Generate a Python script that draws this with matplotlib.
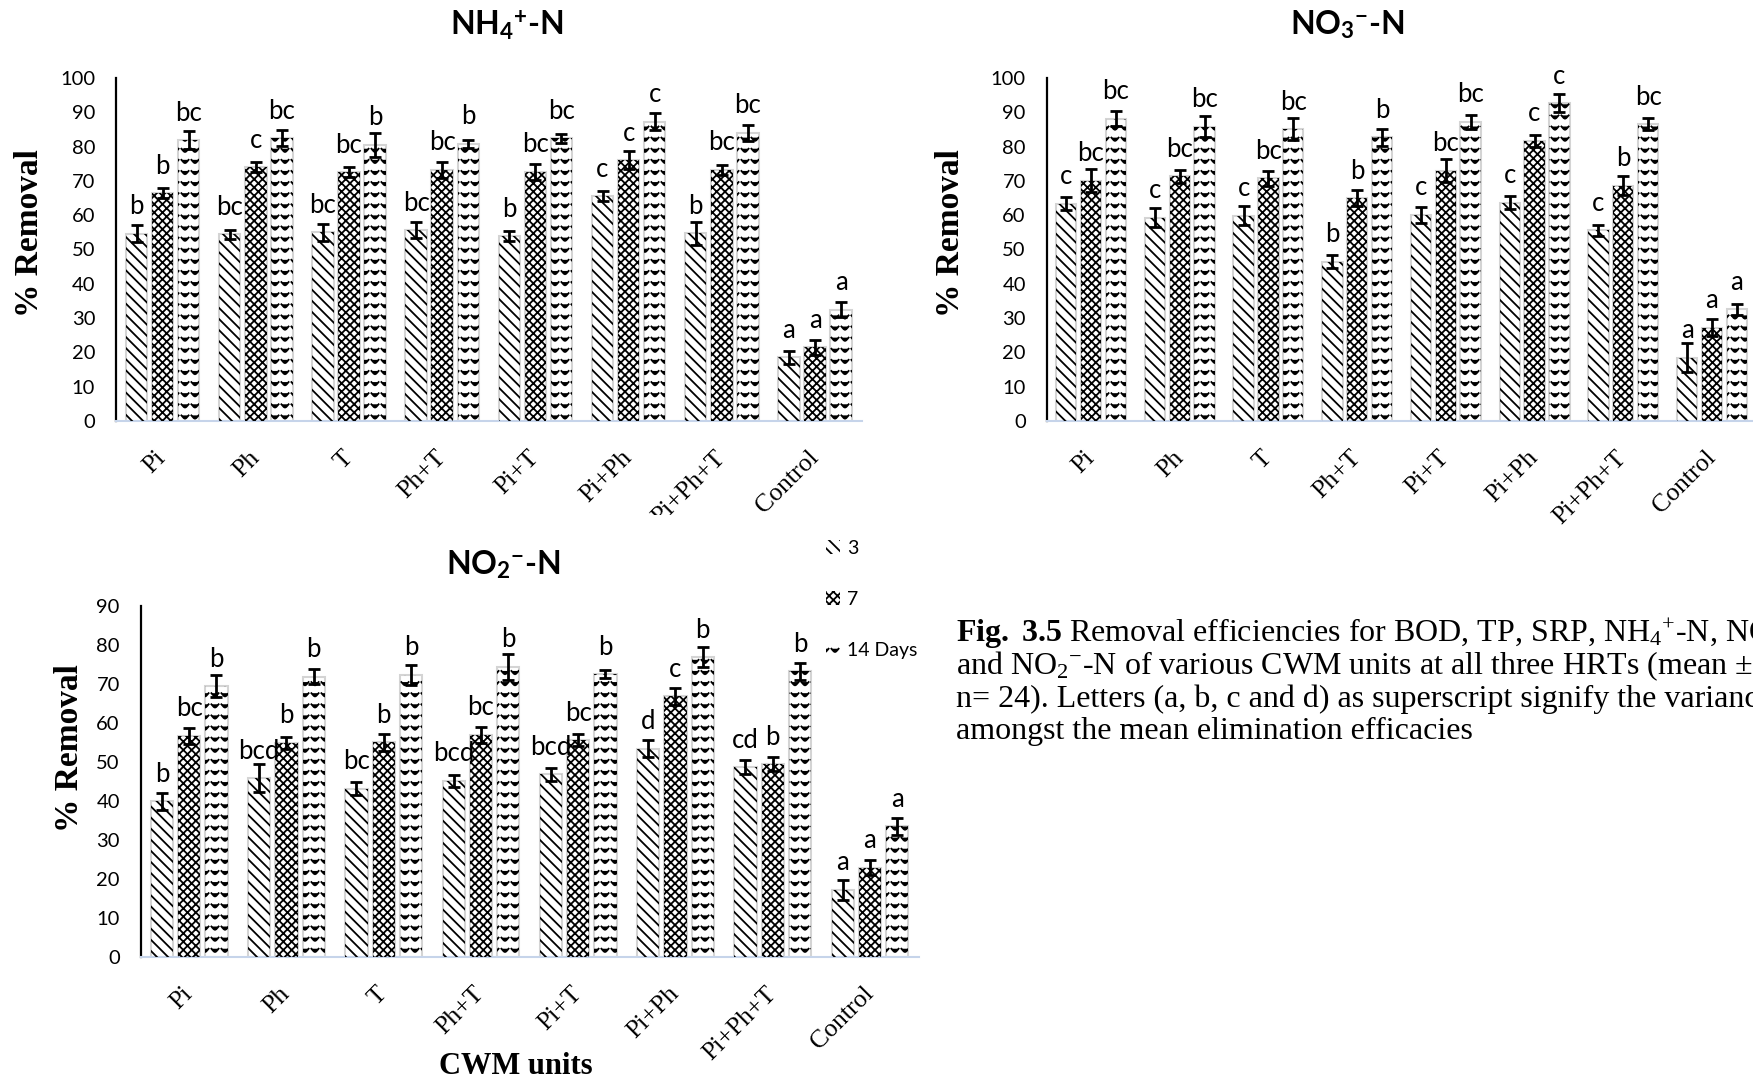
import warnings
import numpy as np
import matplotlib
matplotlib.use('Agg')
import matplotlib.pyplot as plt
import matplotlib.hatch as mhatch
from matplotlib.path import Path
from matplotlib.patches import Patch
from matplotlib.transforms import Bbox, TransformedBbox

warnings.filterwarnings('ignore')

units = ['Pi', 'Ph', 'T', 'Ph+T', 'Pi+T', 'Pi+Ph', 'Pi+Ph+T', 'Control']
days = ['3', '7', '14 Days']

# NH4+-N removal (%)
nh4_d3 = [54.6, 54.5, 55.0, 55.7, 53.9, 65.5, 54.7, 18.6]
nh4_d7 = [66.4, 74.0, 72.5, 73.2, 72.7, 76.1, 73.2, 21.5]
nh4_d14 = [81.9, 82.4, 80.5, 80.8, 82.4, 87.2, 84.0, 32.4]
nh4_e3 = [2.5, 1.3, 2.5, 2.4, 1.4, 1.5, 3.3, 1.9]
nh4_e7 = [1.5, 1.5, 1.5, 2.3, 2.3, 2.5, 1.5, 2.2]
nh4_e14 = [2.6, 2.3, 3.6, 1.2, 1.4, 2.5, 2.3, 2.2]
nh4_l3 = ['b', 'bc', 'bc', 'bc', 'b', 'c', 'b', 'a']
nh4_l7 = ['b', 'c', 'bc', 'bc', 'bc', 'c', 'bc', 'a']
nh4_l14 = ['bc', 'bc', 'b', 'b', 'bc', 'c', 'bc', 'a']

# NO3--N removal (%)
no3_d3 = [63.4, 59.3, 59.9, 46.5, 60.1, 63.7, 55.6, 18.5]
no3_d7 = [70.1, 71.3, 70.8, 65.0, 73.0, 81.7, 68.6, 27.2]
no3_d14 = [88.1, 85.8, 85.1, 82.7, 87.2, 92.7, 86.5, 32.6]
no3_e3 = [2.0, 2.8, 2.7, 1.9, 2.4, 1.8, 1.6, 4.2]
no3_e7 = [3.4, 1.9, 2.2, 2.4, 3.3, 1.8, 2.8, 2.4]
no3_e14 = [2.2, 3.0, 3.1, 2.4, 2.0, 2.6, 1.8, 1.6]
no3_l3 = ['c', 'c', 'c', 'b', 'c', 'c', 'c', 'a']
no3_l7 = ['bc', 'bc', 'bc', 'b', 'bc', 'c', 'b', 'a']
no3_l14 = ['bc', 'bc', 'bc', 'b', 'bc', 'c', 'bc', 'a']

# NO2--N removal (%)
no2_d3 = [39.9, 45.9, 43.2, 45.2, 46.8, 53.4, 48.7, 17.2]
no2_d7 = [56.7, 54.9, 55.1, 57.0, 55.6, 66.8, 49.4, 22.9]
no2_d14 = [69.4, 71.9, 72.4, 74.4, 72.5, 76.9, 73.3, 33.5]
no2_e3 = [2.2, 3.6, 1.6, 1.5, 1.7, 2.2, 1.8, 2.6]
no2_e7 = [2.1, 1.5, 2.2, 2.1, 1.6, 2.1, 1.8, 1.9]
no2_e14 = [2.8, 1.9, 2.6, 3.3, 1.0, 2.5, 2.2, 2.1]
no2_l3 = ['b', 'bcd', 'bc', 'bcd', 'bcd', 'd', 'cd', 'a']
no2_l7 = ['bc', 'b', 'b', 'bc', 'bc', 'c', 'b', 'a']
no2_l14 = ['b', 'b', 'b', 'b', 'b', 'b', 'b', 'a']


class WaveHatch(mhatch.HatchPatternBase):
    # rows of small arcs, used for the 14 day bars
    def __init__(self, hatch, density):
        self.num_rows = int(hatch.count('~') * density * 1.5)
        self.n_arcs = 10
        self.n_pts = 7
        self.num_vertices = self.num_rows * self.n_arcs * self.n_pts

    def set_vertices_and_codes(self, vertices, codes):
        t = np.linspace(-0.036, 0.036, self.n_pts)
        k = 0
        for i in range(self.num_rows):
            y0 = (i + 0.5) / self.num_rows
            for a in range(self.n_arcs):
                xc = (a + 0.5) / self.n_arcs
                s = slice(k, k + self.n_pts)
                vertices[s, 0] = xc + t
                vertices[s, 1] = y0 - 0.02 * np.cos(2 * np.pi * self.n_arcs * t)
                codes[s] = Path.LINETO
                codes[k] = Path.MOVETO
                k += self.n_pts


mhatch._hatch_types.append(WaveHatch)

plt.rcParams['font.family'] = ['Lato', 'DejaVu Sans']
plt.rcParams['mathtext.fontset'] = 'custom'
plt.rcParams['mathtext.rm'] = 'Liberation Serif'
plt.rcParams['mathtext.bf'] = 'Liberation Serif:bold'
plt.rcParams['mathtext.it'] = 'Liberation Serif:italic'
plt.rcParams['mathtext.sf'] = 'Lato:bold'
plt.rcParams['hatch.linewidth'] = 1.3

HATCHES = ['\\' * 3, 'xxxx', '~']
PITCH = 0.28
WIDTH = 0.23
W, H = 1753, 1084


def draw_panel(ax, series, ymax):
    x = np.arange(len(units))
    for j, (vals, errs, lets) in enumerate(series):
        xs = x + (j - 1) * PITCH
        ax.bar(xs, vals, WIDTH, color='white', edgecolor='#d4d4d4', linewidth=1.5, zorder=2)
        ax.bar(xs, vals, WIDTH, color='none', edgecolor='black', linewidth=0, hatch=HATCHES[j], zorder=3)
        ax.errorbar(xs, vals, yerr=errs, fmt='none', ecolor='black', elinewidth=2,
                    capsize=4, capthick=2, zorder=4)
        for xi, v, t in zip(xs, vals, lets):
            ax.annotate(t, (xi, v), xytext=(0, 14), textcoords='offset points',
                        ha='center', va='baseline', fontsize=18.5, zorder=5)
    ax.set_xlim(-0.5, len(units) - 0.5)
    ax.set_ylim(0, ymax)
    ax.set_yticks(np.arange(0, ymax + 1, 10))
    ax.set_xticks(x, units, rotation=45, ha='right', va='center', rotation_mode='anchor',
                  family='Liberation Serif', fontsize=18.5)
    ax.tick_params(axis='both', length=0)
    ax.tick_params(axis='x', pad=24)
    ax.tick_params(axis='y', pad=15, labelsize=14.5)
    for s in ['top', 'right']:
        ax.spines[s].set_visible(False)
    ax.spines['left'].set_linewidth(1.6)
    ax.spines['left'].set_color('black')
    ax.spines['bottom'].set_linewidth(1.5)
    ax.spines['bottom'].set_color('#c6d4ea')


fig = plt.figure(figsize=(W / 100, H / 100), dpi=100)

ax1 = fig.add_axes([116 / W, 1 - 421 / H, 745.6 / W, 343 / H])
ax2 = fig.add_axes([1046.7 / W, 1 - 421 / H, 709.6 / W, 343 / H])
ax3 = fig.add_axes([140.6 / W, 1 - 957 / H, 778 / W, 351 / H])

draw_panel(ax1, [(nh4_d3, nh4_e3, nh4_l3), (nh4_d7, nh4_e7, nh4_l7), (nh4_d14, nh4_e14, nh4_l14)], 100)
draw_panel(ax2, [(no3_d3, no3_e3, no3_l3), (no3_d7, no3_e7, no3_l7), (no3_d14, no3_e14, no3_l14)], 100)
draw_panel(ax3, [(no2_d3, no2_e3, no2_l3), (no2_d7, no2_e7, no2_l7), (no2_d14, no2_e14, no2_l14)], 90)

# the last category label of the first chart is cut by its frame
lab = ax1.get_xticklabels()[6]
lab.set_clip_box(TransformedBbox(Bbox([[0, 1 - 515 / H], [1, 1]]), fig.transFigure))
lab.set_clip_on(True)

# panel titles
fig.text(507 / W, 1 - 25 / H, r'NH$_\mathsf{4}$$^\mathsf{+}$-N', ha='center', va='center',
         fontsize=23, fontweight='bold')
fig.text(1347 / W, 1 - 25 / H, r'NO$_\mathsf{3}$$^\mathsf{-}$-N', ha='center', va='center',
         fontsize=23, fontweight='bold')
fig.text(503 / W, 1 - 565 / H, r'NO$_\mathsf{2}$$^\mathsf{-}$-N', ha='center', va='center',
         fontsize=23, fontweight='bold')

for xp, yp in [(30, 233), (950, 233), (70, 748)]:
    fig.text(xp / W, 1 - yp / H, '% Removal', rotation=90, ha='center', va='center',
             family='Liberation Serif', fontweight='bold', fontsize=24)

fig.text(516 / W, 1 - 1067 / H, 'CWM units', ha='center', va='center',
         family='Liberation Serif', fontweight='bold', fontsize=22)

handles = [Patch(facecolor='white', edgecolor='black', linewidth=0, hatch=h) for h in HATCHES]
fig.legend(handles, days, loc='upper left', bbox_to_anchor=(826 / W, 1 - 540 / H),
           frameon=False, fontsize=14, handlelength=0.7, handleheight=0.7,
           handletextpad=0.4, labelspacing=1.75, borderpad=0, borderaxespad=0)

# caption runs past the right edge of the page, as in the source figure
caption = [
    r'$\mathbf{Fig.}$ $\mathbf{3.5}$ Removal efficiencies for BOD, TP, SRP, NH$_\mathrm{4}$$^\mathrm{+}$-N, NO$_\mathrm{3}$$^\mathrm{-}$-N',
    r'and NO$_\mathrm{2}$$^\mathrm{-}$-N of various CWM units at all three HRTs (mean $\pm$ SD,',
    'n= 24). Letters (a, b, c and d) as superscript signify the variance',
    'amongst the mean elimination efficacies',
]
for i, line in enumerate(caption):
    fig.text(956 / W, 1 - (634 + 32.5 * i) / H, line, ha='left', va='center',
             family='Liberation Serif', fontsize=23)

fig.savefig('out.png', dpi=100)
